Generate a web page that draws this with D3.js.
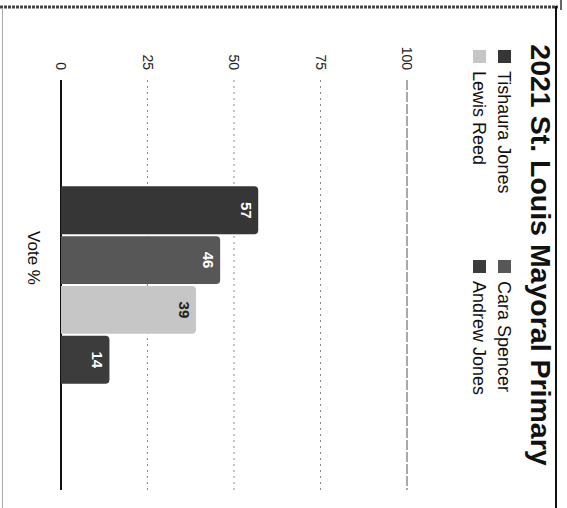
<!DOCTYPE html>
<html>
<head>
<meta charset="utf-8">
<script src="https://cdn.jsdelivr.net/npm/d3@7"></script>
<style>
  html, body { margin: 0; padding: 0; background: #fff; }
  svg { display: block; }
  text { font-family: "Liberation Sans", Arial, sans-serif; }
</style>
</head>
<body>
<svg id="chart" width="567" height="508"></svg>
<script>
// ---- data ----
const title = "2021 St. Louis Mayoral Primary";
const groups = ["Vote %"];
const candidates = ["Tishaura Jones", "Cara Spencer", "Lewis Reed", "Andrew Jones"];
const votes = [57, 46, 39, 14];
const ticks = [0, 25, 50, 75, 100];
const colors = ["#363636", "#575757", "#c6c6c6", "#3c3c3c"];

const PW = 567, PH = 508;
const svg = d3.select("#chart");

// scan frame (page coordinates)
svg.append("line").attr("x1", 0).attr("x2", 558).attr("y1", 7).attr("y2", 7)
  .attr("stroke", "#444").attr("stroke-width", 3).attr("stroke-dasharray", "3,1");
svg.append("line").attr("x1", 556).attr("x2", 556).attr("y1", 6).attr("y2", PH)
  .attr("stroke", "#111").attr("stroke-width", 2);
svg.append("line").attr("x1", 2.5).attr("x2", 2.5).attr("y1", 8).attr("y2", PH)
  .attr("stroke", "#aaa").attr("stroke-width", 1);
svg.append("line").attr("x1", 561).attr("x2", 561).attr("y1", 0).attr("y2", 10)
  .attr("stroke", "#333").attr("stroke-width", 1.5);

// chart drawn in its original upright orientation, then rotated 90deg clockwise
// original width = page height (508), original height = page width (567)
const g = svg.append("g").attr("transform", `translate(${PW},0) rotate(90)`);

const y = d3.scaleLinear().domain([0, 100]).range([506, 160]);
const x0 = d3.scaleBand().domain(groups).range([80, 490]).paddingInner(0.35).paddingOuter(0.35);
const x1 = d3.scaleBand().domain(candidates).range([0, x0.bandwidth()]).paddingInner(0.04);

// grid lines
const grid = g.append("g");
ticks.forEach(t => {
  grid.append("line")
    .attr("x1", 80).attr("x2", 490)
    .attr("y1", y(t)).attr("y2", y(t))
    .attr("stroke", t === 0 ? "#111" : (t === 100 ? "#555" : "#8a8a8a"))
    .attr("stroke-width", t === 0 ? 2 : 1)
    .attr("stroke-dasharray", t === 0 ? null : (t === 100 ? "10,2" : "2,4"));
});

// axis labels
const axis = d3.axisLeft(y).tickValues(ticks).tickSize(0).tickPadding(0);
const ax = g.append("g").attr("transform", "translate(70,0)").call(axis);
ax.select(".domain").remove();
ax.selectAll("text")
  .attr("font-size", 14)
  .attr("fill", "#222")
  .style("font-family", '"Liberation Sans", Arial, sans-serif');

// bars with rounded top corners
function barPath(x, yTop, w, yBase, r) {
  r = Math.min(r, w / 2, (yBase - yTop));
  return `M${x},${yBase} V${yTop + r} Q${x},${yTop} ${x + r},${yTop} H${x + w - r} Q${x + w},${yTop} ${x + w},${yTop + r} V${yBase} Z`;
}
const bars = g.append("g").selectAll("g.bar")
  .data(candidates.map((c, i) => ({ c, v: votes[i], col: colors[i] })))
  .join("g").attr("class", "bar");
bars.append("path")
  .attr("d", d => barPath(x0(groups[0]) + x1(d.c), y(d.v), x1.bandwidth(), y(0), 4))
  .attr("fill", d => d.col);
bars.append("text")
  .attr("x", d => x0(groups[0]) + x1(d.c) + x1.bandwidth() / 2)
  .attr("y", d => y(d.v) + 17)
  .attr("text-anchor", "middle")
  .attr("font-size", 15)
  .attr("font-weight", "bold")
  .attr("fill", d => d.c === "Lewis Reed" ? "#222" : "#fff")
  .text(d => d.v);

// x axis title
g.append("text")
  .attr("x", 258).attr("y", 539)
  .attr("text-anchor", "middle")
  .attr("font-size", 17)
  .attr("fill", "#111")
  .text(groups[0]);

// title
g.append("text")
  .attr("x", 255).attr("y", 36)
  .attr("text-anchor", "middle")
  .attr("font-size", 28.5)
  .attr("font-weight", "bold")
  .attr("fill", "#111")
  .text(title);

// legend: 2 columns x 2 rows
const legPos = [[50, 0], [260, 0], [50, 1], [260, 1]];
const leg = g.append("g").selectAll("g")
  .data(candidates.map((c, i) => ({ c, col: colors[i], p: legPos[i] })))
  .join("g")
  .attr("transform", d => `translate(${d.p[0]},${56 + d.p[1] * 25})`);
leg.append("rect").attr("width", 13).attr("height", 13).attr("fill", d => d.col);
leg.append("text").attr("x", 21).attr("y", 13.5)
  .attr("font-size", 18).attr("fill", "#111")
  .text(d => d.c);
</script>
</body>
</html>
